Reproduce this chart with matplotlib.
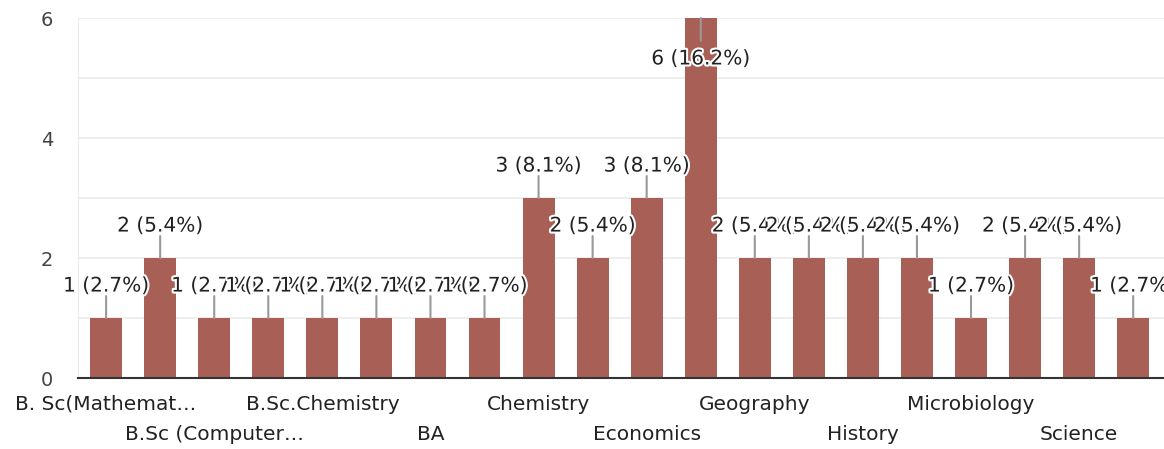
import matplotlib.pyplot as plt
import matplotlib.patheffects as pe
import numpy as np

# categories (only every other one is readable in the chart)
categories = ['B. Sc(Mathemat\u2026', '', 'B.Sc (Computer\u2026', '', 'B.Sc.Chemistry', '',
              'BA', '', 'Chemistry', '', 'Economics', '', 'Geography', '',
              'History', '', 'Microbiology', '', 'Science', '']
counts = [1, 2, 1, 1, 1, 1, 1, 1, 3, 2, 3, 6, 2, 2, 2, 2, 1, 2, 2, 1]
total = sum(counts)

plt.rcParams['font.family'] = ['DejaVu Sans']

fig = plt.figure(figsize=(11.64, 4.49), dpi=100)
ax = fig.add_axes([78 / 1164, 71 / 449, 1086 / 1164, 360 / 449])

x = np.arange(len(counts))
bars = ax.bar(x, counts, width=0.59, color='#a85f56', zorder=2)

ax.set_xlim(-0.52, len(counts) - 0.43)
ax.set_ylim(0, 6)
ax.set_yticks([0, 2, 4, 6])
ax.set_yticks([1, 3, 5], minor=True)
ax.grid(axis='y', which='both', color='#ebebeb', linewidth=1.2, zorder=0)
ax.tick_params(axis='y', which='both', length=0, pad=18, labelsize=14, labelcolor='#444444')

# alternate x labels on two rows
ax.set_xticks(x[0::4])
ax.set_xticklabels(categories[0::4])
ax.set_xticks(x[2::4], minor=True)
ax.set_xticklabels(categories[2::4], minor=True)
ax.tick_params(axis='x', which='major', length=0, pad=12, labelsize=14.5, labelcolor='#222222')
ax.tick_params(axis='x', which='minor', length=0, pad=34, labelsize=14.5, labelcolor='#222222')

for side in ['top', 'right']:
    ax.spines[side].set_visible(False)
ax.spines['left'].set_color('#ebebeb')
ax.spines['bottom'].set_color('#333333')
ax.spines['bottom'].set_linewidth(1.5)
ax.spines['bottom'].set_zorder(3)

halo = [pe.withStroke(linewidth=3, foreground='white')]
for i, v in enumerate(counts):
    label = '{} ({:.1f}%)'.format(v, 100 * v / total)
    if v == max(counts):
        line_end, text_off = -16.5, -29.5
    else:
        line_end, text_off = 15.8, 23
    ax.annotate('', xy=(i, v), xytext=(0, line_end), textcoords='offset points',
                arrowprops=dict(arrowstyle='-', color='#999999', lw=1.5,
                                shrinkA=0, shrinkB=0),
                annotation_clip=False, zorder=4)
    ax.annotate(label, xy=(i, v), xytext=(0, text_off), textcoords='offset points',
                ha='center', va='center', fontsize=14.5, color='#222222',
                path_effects=halo, annotation_clip=False, zorder=4)

fig.savefig('out.png', dpi=100)
